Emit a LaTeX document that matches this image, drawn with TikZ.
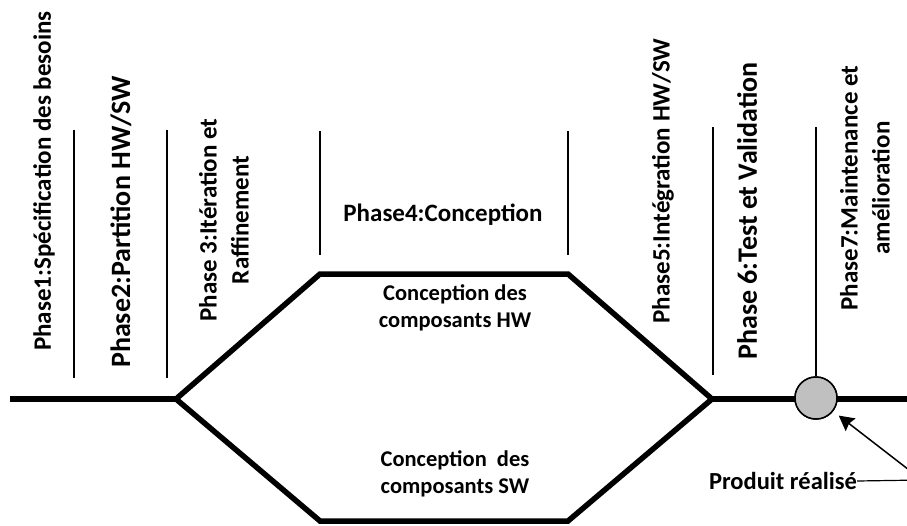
\documentclass[tikz,border=0pt]{standalone}
\usepackage{fontspec}
\setmainfont{Carlito}
\usetikzlibrary{arrows.meta}
\definecolor{knobgray}{RGB}{192,192,192}
\begin{document}
\begin{tikzpicture}[x=1pt,y=-1pt,
  thickline/.style={line width=5.5pt, line join=miter},
  divider/.style={line width=1.5pt},
  phasetext/.style={font=\bfseries\fontsize{25}{32}\selectfont, inner sep=0pt, align=center},
  bigphase/.style={font=\bfseries\fontsize{28}{34}\selectfont, inner sep=0pt, align=center},
  vert/.style={rotate=90},
  designtext/.style={font=\bfseries\fontsize{22.5}{27}\selectfont, inner sep=0pt, align=center},
  labeltext/.style={font=\bfseries\fontsize{24.5}{28}\selectfont, inner sep=0pt},
  knob/.style={circle, draw, line width=1.5pt, fill=knobgray, minimum size=42pt, inner sep=0pt},
  callout/.style={line width=1.2pt},
  pointer/.style={line width=1.5pt, -{Stealth[length=15pt, width=16pt, inset=2pt]}, shorten >=7pt}
]
\useasboundingbox (0,0) rectangle (907,525);
\clip (0,0) rectangle (907,525);

% hexagon corners and ends of the main line
\coordinate (start) at (10,399);
\coordinate (L) at (176,399);
\coordinate (TL) at (320,274);
\coordinate (TR) at (568,274);
\coordinate (R) at (712,399);
\coordinate (BR) at (568,521);
\coordinate (BL) at (320,521);
\coordinate (stop) at (920,399);

% product marker
\node[knob] (prod) at (816,398) {};

% main thick path: input line, the two branches, output line
\draw[thickline] (start) -- (L);
\draw[thickline] (L) -- (TL) -- (TR) -- (R) -- (BR) -- (BL) -- cycle;
\draw[thickline] (R) -- (stop);
\node[knob] at (prod) {};

% phase dividers
\coordinate (d1a) at (74,130);  \coordinate (d1b) at (74,378);
\coordinate (d2a) at (167,130); \coordinate (d2b) at (167,378);
\coordinate (d3a) at (320,131); \coordinate (d3b) at (320,255);
\coordinate (d4a) at (568,131); \coordinate (d4b) at (568,255);
\coordinate (d5a) at (713,127); \coordinate (d5b) at (713,375);
\coordinate (d6a) at (816,127);
\draw[divider] (d1a) -- (d1b);
\draw[divider] (d2a) -- (d2b);
\draw[divider] (d3a) -- (d3b);
\draw[divider] (d4a) -- (d4b);
\draw[divider] (d5a) -- (d5b);
\draw[divider] (d6a) -- (prod.north);

% phase labels
\node[phasetext, vert] (p1) at (44,181) {Phase1:Spécification des besoins};
\node[bigphase, vert] (p2) at (121,222) {Phase2:Partition HW/SW};
\node[phasetext, vert] (p3) at (224,220) {Phase 3:Itération et\\Raffinement};
\node[phasetext] (p4) at (443,215) {Phase4:Conception};
\node[phasetext, vert] (p5) at (663,181) {Phase5:Intégration HW/SW};
\node[bigphase, vert] (p6) at (747,211) {Phase 6:Test et Validation};
\node[phasetext, vert] (p7) at (865,188) {Phase7:Maintenance et\\amélioration};

% design branches
\node[designtext] (hw) at (455,308) {Conception des\\composants HW};
\node[designtext] (sw) at (455,474) {Conception~ des\\composants SW};

% callout for the finished product
\node[labeltext] (lbl) at (783,481) {Produit réalisé};
\coordinate (bend) at (922,480);
\draw[callout] (lbl.east) -- (bend);
\draw[pointer] (bend) -- (prod);
\end{tikzpicture}
\end{document}
